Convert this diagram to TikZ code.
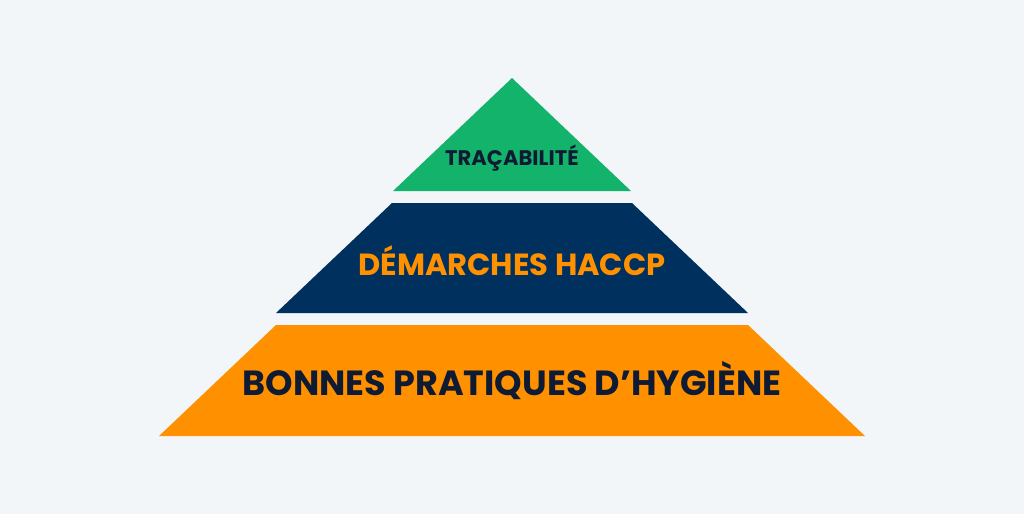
\documentclass[tikz,border=0pt]{standalone}
\usepackage{fontspec}
\setmainfont{Poppins}
\usetikzlibrary{positioning}
\definecolor{bgGray}{HTML}{F2F6F9}
\definecolor{levelGreen}{HTML}{14B36B}
\definecolor{levelNavy}{HTML}{00305E}
\definecolor{levelOrange}{HTML}{FF9100}
\definecolor{textDark}{HTML}{0F1A33}
\begin{document}
\begin{tikzpicture}[x={(0.02cm,0)}, y={(0,-0.02cm)}]
\tikzstyle{levelText} = [font=\bfseries, inner sep=0pt, anchor=center]
\fill[bgGray] (0,0) rectangle (1024,514);
\useasboundingbox (0,0) rectangle (1024,514);
% top level
\coordinate (apex) at (512,78);
\coordinate (t1) at (393,191);
\coordinate (t2) at (631,191);
\fill[levelGreen] (apex) -- (t1) -- (t2) -- cycle;
\node[levelText, text=textDark, font=\bfseries\fontsize{12}{14}\selectfont] (trace) at (512,158) {TRAÇABILITÉ};
% middle level
\coordinate (m1) at (392,203);
\coordinate (m2) at (632,203);
\coordinate (m3) at (748,313);
\coordinate (m4) at (276,313);
\fill[levelNavy] (m1) -- (m2) -- (m3) -- (m4) -- cycle;
\node[levelText, text=levelOrange, font=\bfseries\fontsize{17.4}{20}\selectfont] (haccp) at (512,261) {DÉMARCHES HACCP};
% bottom level
\coordinate (b1) at (276,325);
\coordinate (b2) at (748,325);
\coordinate (b3) at (865,436);
\coordinate (b4) at (159,436);
\fill[levelOrange] (b1) -- (b2) -- (b3) -- (b4) -- cycle;
\node[levelText, text=textDark, font=\bfseries\fontsize{19.9}{23}\selectfont] (hygiene) at (512,381) {BONNES PRATIQUES D’HYGIÈNE};
\end{tikzpicture}
\end{document}
